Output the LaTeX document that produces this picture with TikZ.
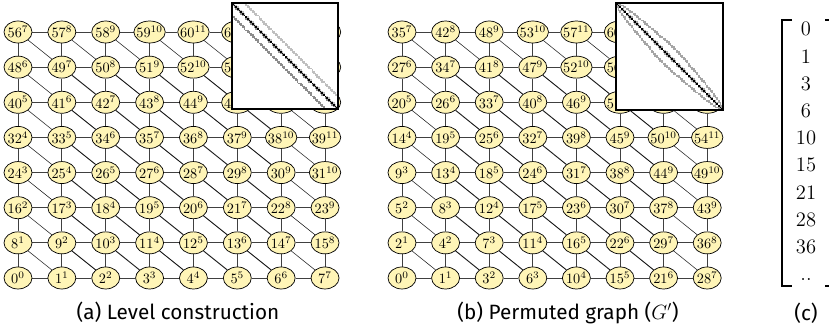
\documentclass[tikz,border=0pt]{standalone}
\usepackage{fontspec}
\newfontfamily\capfont{Fira Sans}
\usetikzlibrary{shapes.geometric}
\pgfdeclarelayer{bg}
\pgfsetlayers{bg,main}
\definecolor{nodefill}{RGB}{255,245,183}
\tikzset{
  nd/.style={ellipse, draw=black, line width=0.5pt, fill=nodefill, inner sep=0pt,
    minimum width=19.6pt, minimum height=15.4pt, font=\fontsize{10.4}{12}\selectfont},
  ndw/.style={nd, minimum width=22pt},
  edge/.style={draw=black!75, line width=0.55pt},
  dedge/.style={draw=black!90, line width=0.65pt},
  tedge/.style={draw=black!85, line width=0.4pt},
  captxt/.style={font=\capfont\fontsize{14.5}{17}\selectfont, anchor=base, inner sep=0pt},
  mnum/.style={font=\fontsize{14.4}{17}\selectfont, inner sep=0pt},
  bracket/.style={line width=0.9pt},
}
\newcommand\mygraph[4]{%
  \foreach \i in {0,...,7}{\foreach \j in {0,...,7}{%
    \pgfmathtruncatemacro\n{#4(\i,\j)}%
    \pgfmathtruncatemacro\l{\i+\j}%
    \ifnum\l>9 \def\st{ndw}\else\def\st{nd}\fi
    \node[\st] (#1-\i-\j) at ({#2+#3*\i},{32+35.14*(7-\j)}) {\makebox[0pt]{$\n^{\l}$}};
  }}%
  \begin{pgfonlayer}{bg}
  \foreach \i in {0,...,7}{\foreach \j in {0,...,7}{%
    \pgfmathtruncatemacro\ii{\i+1}\pgfmathtruncatemacro\jj{\j+1}\pgfmathtruncatemacro\jm{\j-1}%
    \ifnum\i<7 \draw[edge] (#1-\i-\j) -- (#1-\ii-\j);\fi
    \ifnum\j<7 \draw[edge] (#1-\i-\j) -- (#1-\i-\jj);\fi
    \ifnum\i<7 \ifnum\j>0
      \def\sty{dedge}%
      \ifnum\i=0 \def\sty{tedge}\fi
      \ifnum\j=7 \def\sty{tedge}\fi
      \ifnum\ii=7 \def\sty{tedge}\fi
      \draw[\sty] (#1-\i-\j) -- (#1-\ii-\jm);
    \fi\fi
  }}%
  \end{pgfonlayer}}
\newcommand\myspy[6]{%
  \fill[white] (#2,#3) rectangle ++(#4,#4);
  \pgfmathsetmacro\cs{#4/64}%
  \foreach \i in {0,...,7}{\foreach \j in {0,...,7}{%
    \pgfmathtruncatemacro\p{#1(\i,\j)}%
    \foreach \di/\dj in {1/0,-1/0,0/1,0/-1,1/-1,-1/1}{%
      \pgfmathtruncatemacro\ni{\i+\di}\pgfmathtruncatemacro\nj{\j+\dj}%
      \ifnum\ni>-1 \ifnum\ni<8 \ifnum\nj>-1 \ifnum\nj<8
        \pgfmathtruncatemacro\q{#1(\ni,\nj)}%
        \ifnum\q>\p \def\cc{#5}\else\def\cc{#6}\fi
        \fill[\cc] ({#2+\q*\cs},{#3+\p*\cs}) rectangle ++(\cs,\cs);
      \fi\fi\fi\fi
    }%
    \fill[black] ({#2+\p*\cs},{#3+\p*\cs}) rectangle ++(\cs,\cs);
  }}%
  \draw[line width=0.8pt] (#2,#3) rectangle ++(#4,#4);
}
\begin{document}
\begin{tikzpicture}[x=0.7pt,y=-0.7pt,
  declare function={
    pa(\i,\j)=8*\j+\i;
    pb(\i,\j)=((\i+\j)<8)*((\i+\j)*(\i+\j+1)/2+\j)+((\i+\j)>7)*(36+(\i+\j-8)*15-((\i+\j-1)*(\i+\j)/2-28)+7-\i);
  }]
\useasboundingbox (0,0) rectangle (829,333);
\clip (0,0) rectangle (829,333);
% (a)
\mygraph{a}{18}{43.86}{pa}
\myspy{pa}{232}{3}{106}{black!25}{black!45}
\node[captxt] (capa) at (178,319) {(a) Level construction};
% (b)
\mygraph{b}{402}{43.6}{pb}
\myspy{pb}{616}{3}{107}{black!35}{black!35}
\node[captxt] (capb) at (568,319) {(b) Permuted graph ($G'$)};
% (c)
\foreach \v [count=\k from 0] in {0,1,3,6,10,15,21,28,36}
  \node[mnum] (c-\k) at (806,{29+27.25*\k}) {\v};
\node[mnum, anchor=base] (c-dots) at (806,280) {..};
\draw[bracket] (792,20) -- (782,20) -- (782,286) -- (792,286);
\draw[bracket] (825,20) -- (836,20) -- (836,286) -- (825,286);
\node[captxt] (capc) at (806,320) {(c)};
\end{tikzpicture}
\end{document}
